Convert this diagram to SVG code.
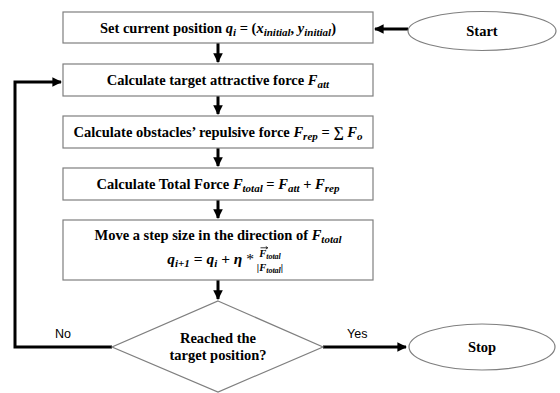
<svg xmlns="http://www.w3.org/2000/svg" width="560" height="393" viewBox="0 0 560 393">
<defs>
<style>
.box{fill:#fff;stroke:#7f7f7f;stroke-width:1.2}
.t{font-family:"Liberation Serif","Times New Roman",serif;font-weight:bold;font-size:14.5px;fill:#000}
.f{font-size:10.5px}
.big{font-size:15.5px}
.m{font-style:italic}
.s{font-size:11px;font-style:italic}
.fs{font-size:8px;font-style:italic}
.lbl{font-family:"Liberation Sans",Arial,sans-serif;font-size:12.5px;fill:#000}
.c{fill:none;stroke:#000;stroke-width:3}
</style>
<marker id="ah" viewBox="0 0 10 10" refX="9" refY="5" markerWidth="3.2" markerHeight="3.2" orient="auto" markerUnits="strokeWidth">
<path d="M0,0 L10,5 L0,10 z" fill="#000"/>
</marker>
</defs>
<g id="connectors">
<path class="c" d="M408,29 H375" marker-end="url(#ah)"/>
<path class="c" d="M218,43 V62" marker-end="url(#ah)"/>
<path class="c" d="M218,96 V114" marker-end="url(#ah)"/>
<path class="c" d="M218,148 V166" marker-end="url(#ah)"/>
<path class="c" d="M218,200 V218" marker-end="url(#ah)"/>
<path class="c" d="M218,280 V299" marker-end="url(#ah)"/>
<path class="c" d="M112,347 H15 V82 H61" marker-end="url(#ah)"/>
<path class="c" d="M323,347 H406" marker-end="url(#ah)"/>
<text class="lbl" x="55" y="338">No</text>
<text class="lbl" x="347" y="338">Yes</text>
</g>
<g id="start">
<ellipse cx="482" cy="31" rx="74" ry="19.5" fill="#fff" stroke="#7f7f7f" stroke-width="1.2"/>
<text class="t" x="482" y="36" text-anchor="middle">Start</text>
</g>
<g id="set-position">
<rect class="box" x="63" y="12" width="310" height="31"/>
<text class="t" x="218" y="33" text-anchor="middle">Set current position <tspan class="m">q</tspan><tspan class="s" dy="3">i</tspan><tspan dy="-3"> =  (</tspan><tspan class="m">x</tspan><tspan class="s" dy="3">initial</tspan><tspan dy="-3">, </tspan><tspan class="m">y</tspan><tspan class="s" dy="3">initial</tspan><tspan dy="-3">)</tspan></text>
</g>
<g id="attractive">
<rect class="box" x="63" y="64" width="310" height="32"/>
<text class="t" x="218" y="85" text-anchor="middle">Calculate target attractive force <tspan class="m">F</tspan><tspan class="s" dy="3">att</tspan></text>
</g>
<g id="repulsive">
<rect class="box" x="63" y="116" width="310" height="32"/>
<text class="t" x="218" y="137" text-anchor="middle">Calculate obstacles’ repulsive force <tspan class="m">F</tspan><tspan class="s" dy="3">rep</tspan><tspan dy="-3"> = ∑ </tspan><tspan class="m">F</tspan><tspan class="s" dy="3">o</tspan></text>
</g>
<g id="total">
<rect class="box" x="63" y="168" width="310" height="32"/>
<text class="t" x="218" y="189" text-anchor="middle">Calculate Total Force <tspan class="m">F</tspan><tspan class="s" dy="3">total</tspan><tspan dy="-3"> = </tspan><tspan class="m">F</tspan><tspan class="s" dy="3">att</tspan><tspan dy="-3"> + </tspan><tspan class="m">F</tspan><tspan class="s" dy="3">rep</tspan></text>
</g>
<g id="move">
<rect class="box" x="63" y="220" width="310" height="60"/>
<text class="t" x="218" y="240" text-anchor="middle">Move a step size in the direction of <tspan class="m">F</tspan><tspan class="s" dy="3">total</tspan></text>
<text class="t big" x="254" y="264" text-anchor="end"><tspan class="m">q</tspan><tspan class="s" dy="3">i+1</tspan><tspan dy="-3" xml:space="preserve"> = </tspan><tspan class="m">q</tspan><tspan class="s" dy="3">i</tspan><tspan dy="-3"> + </tspan><tspan class="m">η</tspan> <tspan font-weight="normal">*</tspan></text>
<text class="t f" x="270" y="257" text-anchor="middle"><tspan class="m">F</tspan><tspan class="fs" dy="1.5">total</tspan></text>
<path d="M260.5,247.8 H267.5 M265.8,246.5 L267.8,247.8 L265.8,249.1" fill="none" stroke="#000" stroke-width="0.8"/>
<text class="t f" x="270" y="271" text-anchor="middle">|<tspan class="m">F</tspan><tspan class="fs" dy="1.5">total</tspan><tspan dy="-1.5">|</tspan></text>
</g>
<g id="decision">
<polygon points="218,301 323,347 218,392 112,347" fill="#fff" stroke="#7f7f7f" stroke-width="1.2"/>
<text class="t" x="218" y="343" text-anchor="middle">Reached the</text>
<text class="t" x="218" y="360" text-anchor="middle">target position?</text>
</g>
<g id="stop">
<ellipse cx="482" cy="347" rx="73" ry="23" fill="#fff" stroke="#7f7f7f" stroke-width="1.2"/>
<text class="t" x="482" y="352" text-anchor="middle">Stop</text>
</g>
</svg>
